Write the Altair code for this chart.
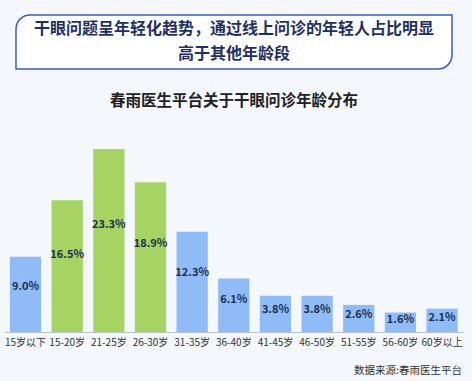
import altair as alt
import pandas as pd

title_lines = ["干眼问题呈年轻化趋势，通过线上问诊的年轻人占比明显", "高于其他年龄段"]
subtitle = "春雨医生平台关于干眼问诊年龄分布"
source = "数据来源:春雨医生平台"

categories = ["15岁以下", "15-20岁", "21-25岁", "26-30岁", "31-35岁", "36-40岁",
              "41-45岁", "46-50岁", "51-55岁", "56-60岁", "60岁以上"]
values = [9.0, 16.5, 23.3, 18.9, 12.3, 6.1, 3.8, 3.8, 2.6, 1.6, 2.1]
groups = ["其他", "年轻", "年轻", "年轻", "其他", "其他", "其他", "其他", "其他", "其他", "其他"]

FONT = "Noto Sans CJK SC"
df = pd.DataFrame({"cat": categories, "v": values, "g": groups})
df["lab"] = [f"{v:.1f}%" for v in values]

x_enc = alt.X("cat:N", sort=categories,
              scale=alt.Scale(range=[4.7, 462.9], paddingInner=0.25, paddingOuter=0.125),
              axis=alt.Axis(title=None, labelAngle=0, ticks=False, labelFontSize=10,
                            labelColor="#333333", labelFont=FONT, domainColor="#b8c0cc",
                            labelPadding=5))
y_scale = alt.Scale(domain=[-1, 43.1], nice=False, zero=False)

base = alt.Chart(df)
bars = base.mark_bar().encode(
    x=x_enc,
    y=alt.Y("v:Q", scale=y_scale, axis=None),
    y2=alt.datum(-1),
    color=alt.Color("g:N", scale=alt.Scale(domain=["其他", "年轻"], range=["#8fbcf6", "#a6d462"]), legend=None),
)
labels = base.mark_text(fontSize=11, fontWeight="bold", color="#1e2d4d", font=FONT, baseline="middle").transform_calculate(
    ly="datum.v * 0.58 - 0.3"
).encode(
    x=alt.X("cat:N", sort=categories),
    y=alt.Y("ly:Q", scale=y_scale, axis=None),
    text="lab:N",
)

one = pd.DataFrame({"a": [1]})
box = alt.Chart(one).mark_rect(fill="#ffffff", stroke="#3a5bc4", strokeWidth=1.5,
                               cornerRadiusTopLeft=14, cornerRadiusBottomRight=14).encode(
    x=alt.value(16), x2=alt.value(452), y=alt.value(15), y2=alt.value(69))

title1 = alt.Chart(pd.DataFrame({"t": [title_lines[0]]})).mark_text(
    fontSize=16, fontWeight="bold", color="#1f2f66", font=FONT, baseline="middle", align="center"
).encode(x=alt.value(234), y=alt.value(29), text="t:N")
title2 = alt.Chart(pd.DataFrame({"t": [title_lines[1]]})).mark_text(
    fontSize=16, fontWeight="bold", color="#1f2f66", font=FONT, baseline="middle", align="center"
).encode(x=alt.value(234), y=alt.value(54), text="t:N")

sub = alt.Chart(pd.DataFrame({"t": [subtitle]})).mark_text(
    fontSize=15.5, fontWeight="bold", color="#222222", font=FONT, baseline="middle", align="center"
).encode(x=alt.value(234), y=alt.value(101), text="t:N")

src = alt.Chart(pd.DataFrame({"t": [source]})).mark_text(
    fontSize=10.5, color="#333333", font=FONT, baseline="middle", align="right"
).encode(x=alt.value(462), y=alt.value(371), text="t:N")

chart = alt.layer(box, title1, title2, sub, bars, labels, src).properties(
    width=472, height=332,
    autosize=alt.AutoSizeParams(type="none"),
    padding={"left": 0, "top": 0, "right": 0, "bottom": 49},
    background="#f4f7fc",
).configure_view(stroke=None)

chart.save("out.html", embed_options={"renderer": "svg", "actions": False})
